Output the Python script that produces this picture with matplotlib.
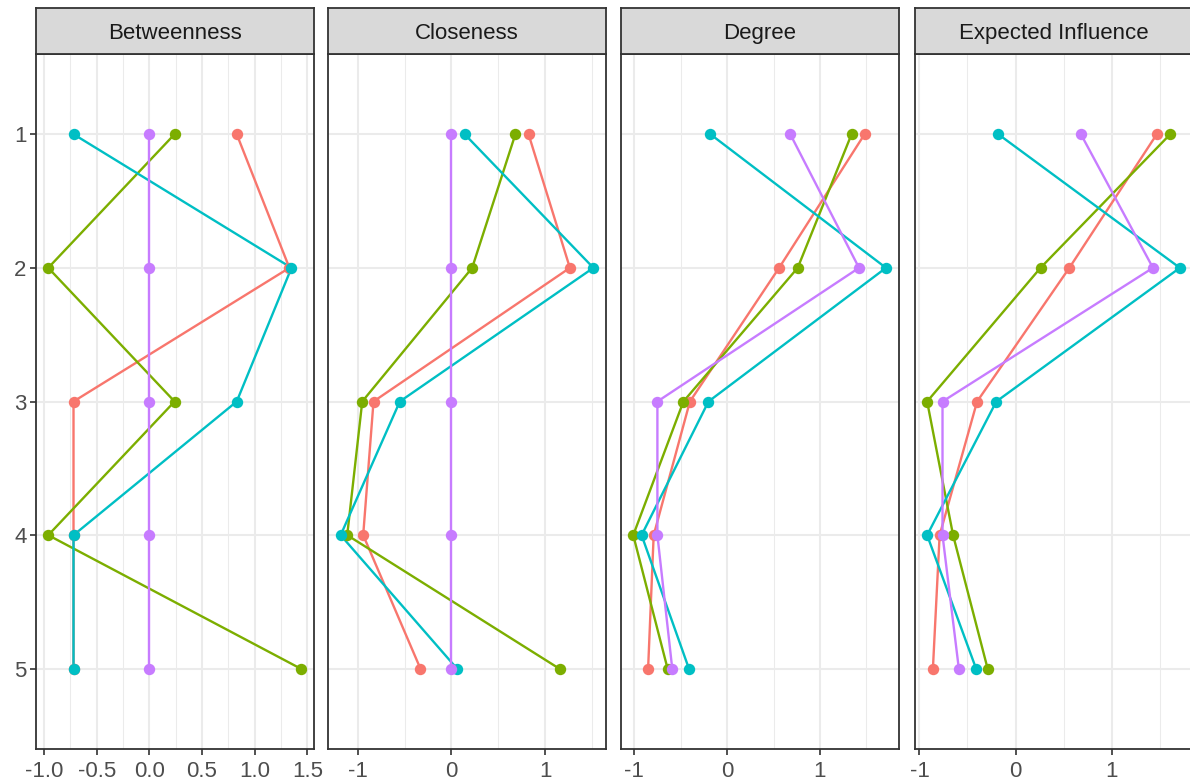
import matplotlib
matplotlib.use("Agg")
import matplotlib.pyplot as plt
from matplotlib.ticker import MultipleLocator, FormatStrFormatter
import numpy as np

plt.rcParams['font.family'] = ['Liberation Sans', 'DejaVu Sans']

# ---- data ----
nodes = [1, 2, 3, 4, 5]
measures = ["Betweenness", "Closeness", "Degree", "Expected Influence"]
group_colors = ["#F8766D", "#7CAE00", "#00BFC4", "#C77CFF"]

betweenness_g1 = [0.83, 1.33, -0.72, -0.72, -0.72]
betweenness_g2 = [0.24, -0.96, 0.24, -0.96, 1.44]
betweenness_g3 = [-0.72, 1.35, 0.83, -0.72, -0.72]
betweenness_g4 = [0.0, 0.0, 0.0, 0.0, 0.0]

closeness_g1 = [0.82, 1.26, -0.83, -0.94, -0.33]
closeness_g2 = [0.68, 0.22, -0.95, -1.11, 1.15]
closeness_g3 = [0.14, 1.51, -0.55, -1.18, 0.06]
closeness_g4 = [0.0, 0.0, 0.0, 0.0, 0.0]

degree_g1 = [1.48, 0.56, -0.40, -0.79, -0.85]
degree_g2 = [1.34, 0.76, -0.47, -1.01, -0.64]
degree_g3 = [-0.18, 1.71, -0.20, -0.92, -0.41]
degree_g4 = [0.68, 1.42, -0.75, -0.75, -0.59]

ei_g1 = [1.47, 0.56, -0.40, -0.79, -0.86]
ei_g2 = [1.61, 0.26, -0.92, -0.65, -0.29]
ei_g3 = [-0.18, 1.71, -0.20, -0.92, -0.41]
ei_g4 = [0.68, 1.43, -0.76, -0.76, -0.59]

panel_data = [
    [betweenness_g1, betweenness_g2, betweenness_g3, betweenness_g4],
    [closeness_g1, closeness_g2, closeness_g3, closeness_g4],
    [degree_g1, degree_g2, degree_g3, degree_g4],
    [ei_g1, ei_g2, ei_g3, ei_g4],
]
major_steps = [0.5, 1, 1, 1]

# ---- layout (pixels) ----
W, H = 1190, 784
fig = plt.figure(figsize=(W / 100, H / 100), dpi=100)
lefts = [35.6, 328.0, 620.6, 914.5]
pw = 278.0
top_px, bot_px = 54.0, 749.0
strip_top = 8.0

grid_major = "#EBEBEB"
border_col = "#333333"
text_col = "#4D4D4D"

for i, (name, series, step) in enumerate(zip(measures, panel_data, major_steps)):
    ax = fig.add_axes([lefts[i] / W, 1 - bot_px / H, pw / W, (bot_px - top_px) / H])
    allv = np.concatenate([np.asarray(s, float) for s in series])
    lo, hi = allv.min(), allv.max()
    pad = 0.05 * (hi - lo)
    ax.set_xlim(lo - pad, hi + pad)
    ax.set_ylim(5.6, 0.4)

    ax.xaxis.set_major_locator(MultipleLocator(step))
    ax.xaxis.set_minor_locator(MultipleLocator(step / 2))
    if step == 0.5:
        ax.xaxis.set_major_formatter(FormatStrFormatter('%.1f'))
    else:
        ax.xaxis.set_major_formatter(FormatStrFormatter('%d'))
    ax.set_yticks(nodes)
    ax.set_yticklabels([str(n) for n in nodes])

    ax.grid(which='major', axis='both', color=grid_major, lw=1.5, zorder=0)
    ax.grid(which='minor', axis='x', color=grid_major, lw=0.75, zorder=0)
    ax.set_axisbelow(True)

    for s, c in zip(series, group_colors):
        ax.plot(s, nodes, color=c, lw=1.7, zorder=2, solid_capstyle='butt')
    for s, c in zip(series, group_colors):
        ax.plot(s, nodes, 'o', color=c, ms=8.2, mew=0, zorder=3)

    for sp in ax.spines.values():
        sp.set_color(border_col)
        sp.set_linewidth(1.3)

    ax.tick_params(axis='x', which='major', length=4, width=1.2, color=border_col,
                   labelsize=16, labelcolor=text_col, pad=4.5)
    ax.tick_params(axis='x', which='minor', length=0)
    if i == 0:
        ax.tick_params(axis='y', length=4, width=1.2, color=border_col,
                       labelsize=16, labelcolor=text_col, pad=2.5)
    else:
        ax.tick_params(axis='y', length=0, labelleft=False)

    # facet strip
    sax = fig.add_axes([lefts[i] / W, 1 - top_px / H, pw / W, (top_px - strip_top) / H])
    sax.set_facecolor("#D9D9D9")
    sax.set_xticks([])
    sax.set_yticks([])
    for sp in sax.spines.values():
        sp.set_color(border_col)
        sp.set_linewidth(1.3)
    sax.text(0.5, 0.5, name, ha='center', va='center_baseline', fontsize=16,
             color="#1A1A1A", transform=sax.transAxes)

fig.savefig("out.png", dpi=100, facecolor="white")
